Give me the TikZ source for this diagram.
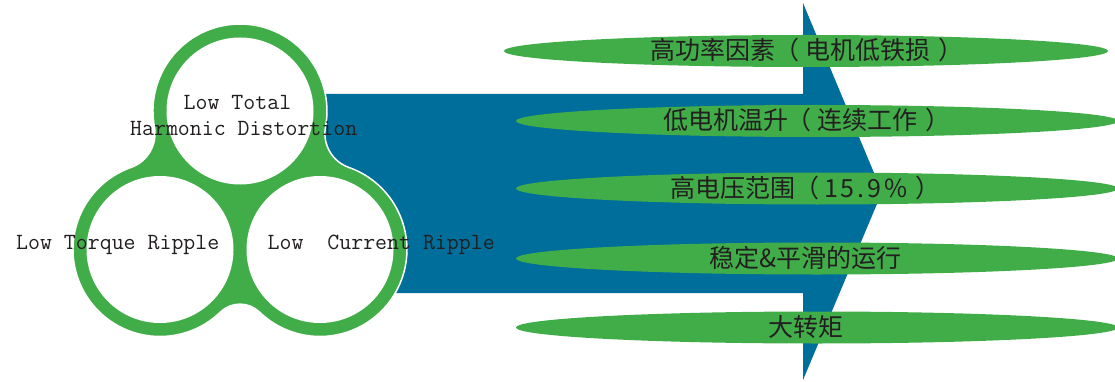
\documentclass[tikz,border=0pt]{standalone}
\usepackage{fontspec}
\usetikzlibrary{shapes.geometric}
\newfontfamily\cjk{Noto Sans CJK SC}
\definecolor{grn}{RGB}{65,173,73}
\definecolor{blu}{RGB}{0,110,155}
\definecolor{ink}{RGB}{35,31,32}
\newcommand\lpar{\kern-0.05em（\kern0.05em}
\newcommand\rpar{\kern0.1em）\kern-0.1em}
\begin{document}
\begin{tikzpicture}[x=1pt,y=1pt,
  blob/.style={fill=grn,draw=white,line width=1.5pt},
  hole/.style={circle,fill=white,minimum size=147,inner sep=0},
  lens/.style={ellipse,fill=grn,inner sep=0,minimum height=32},
  lbl/.style={font=\cjk\fontsize{25}{30}\selectfont,text=ink,inner sep=0},
  ring/.style={font=\ttfamily\fontsize{23.2}{26}\selectfont,text=ink,inner sep=0,anchor=base west}]
\useasboundingbox (0,0) rectangle (1115,-382);
% big arrow
\fill[blu] (320,-94) -- (803,-94) -- (803,-3) -- (882,-192) -- (803,-380) -- (803,-293) -- (320,-293) -- cycle;
% trefoil
\path[blob] (154.45,-126.93) arc[start angle=190.55, end angle=-10.55, radius=87]
  arc[start angle=169.45, end angle=250.56, radius=36]
  arc[start angle=70.56, end angle=-134.08, radius=87]
  arc[start angle=45.92, end angle=134.08, radius=28]
  arc[start angle=-45.92, end angle=-250.56, radius=87]
  arc[start angle=-70.56, end angle=10.55, radius=36] -- cycle;
\node[hole] (cT) at (240,-111) {};
\node[hole] (cL) at (160,-249.5) {};
\node[hole] (cR) at (320,-249.5) {};
% ellipses
\node[lens,minimum width=604] (e1) at (806,-51) {};
\node[lens,minimum width=602] (e2) at (817,-121) {};
\node[lens,minimum width=602] (e3) at (817,-188.5) {};
\node[lens,minimum width=602] (e4) at (817,-258.5) {};
\node[lens,minimum width=602] (e5) at (817,-327.5) {};
\node[lbl] (t1) at (805.5,-50) {高功率因素\lpar\kern0.2em 电机低铁损\kern0.2em\rpar};
\node[lbl] (t2) at (805.5,-120.5) {低电机温升\lpar\kern0.2em 连续工作\kern0.2em\rpar};
\node[lbl] (t3) at (804,-188) {高电压范围\lpar\kern0.15em 1\kern3pt 5\kern3pt .\kern3pt 9\kern3pt \%\kern0.2em\rpar};
\node[lbl] (t4) at (805.5,-258) {稳定\&平滑的运行};
\node[lbl] (t5) at (805.5,-327) {大转矩};
% ring texts
\node[ring] (r1) at (183.5,-109.3) {Low Total};
\node[ring] (r2) at (130,-136) {Harmonic Distortion};
\node[ring] (r3) at (16,-249.3) {Low Torque Ripple};
\node[ring] (r4) at (267.5,-249.3) {Low~~Current Ripple};
\end{tikzpicture}
\end{document}
